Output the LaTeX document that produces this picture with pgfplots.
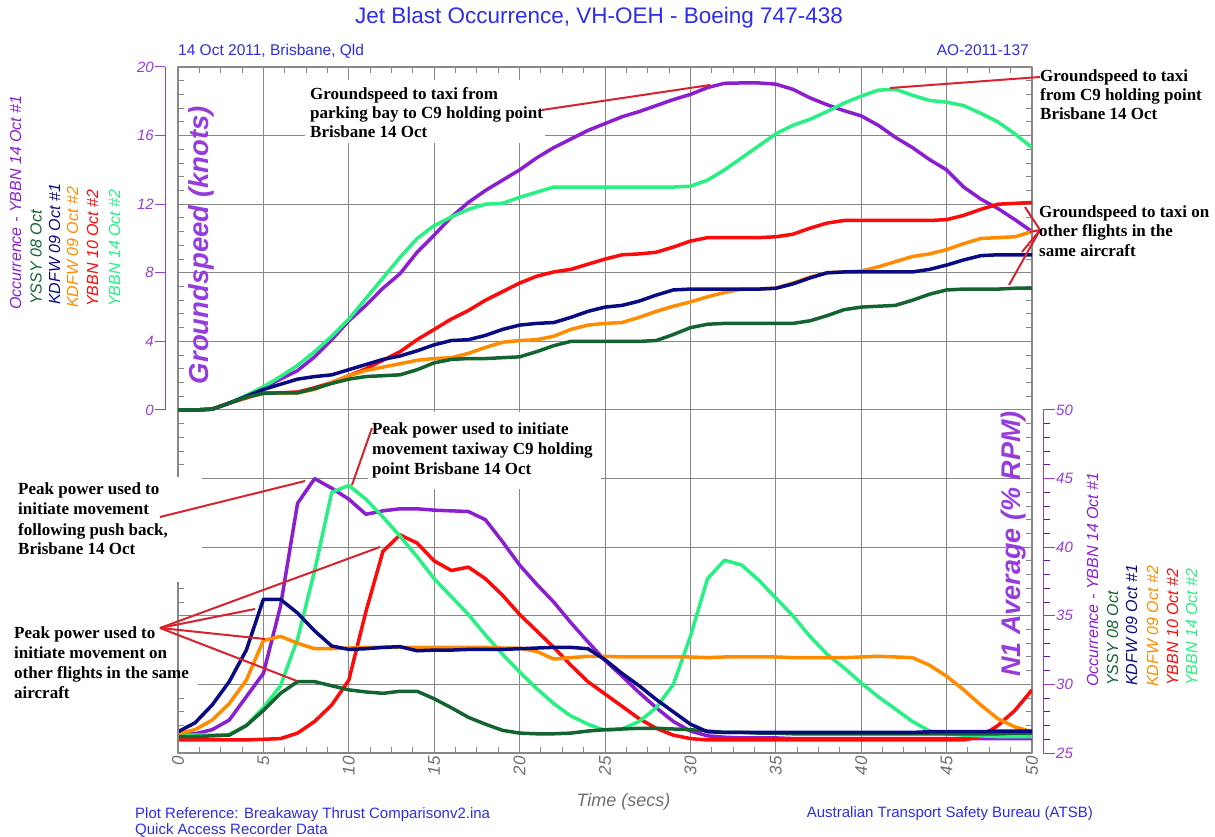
\documentclass[border=0pt]{standalone}
\usepackage{pgfplots}
\usepackage{pgfplotstable}
\pgfplotsset{compat=1.18}
\usepackage{fontspec}
\setmainfont{Liberation Serif}
\newfontfamily\arial{Liberation Sans}

\definecolor{occ}{RGB}{140,30,210}
\definecolor{yssy}{RGB}{20,100,50}
\definecolor{kdfwa}{RGB}{10,10,130}
\definecolor{kdfwb}{RGB}{255,140,0}
\definecolor{ybbnr}{RGB}{255,10,10}
\definecolor{ybbng}{RGB}{40,240,130}
\definecolor{axpurple}{RGB}{150,60,220}
\definecolor{hdrblue}{RGB}{45,45,235}
\definecolor{gridgray}{RGB}{135,135,135}
\definecolor{annred}{RGB}{215,35,45}
\definecolor{ticktext}{RGB}{110,110,110}

\newcommand\annfont{\fontsize{17}{20}\selectfont\bfseries}
\newcommand\legfont{\arial\itshape\fontsize{16}{16}\selectfont}

% groundspeed (knots)
\pgfplotstableread{
t occ yssy kdfwa kdfwb ybbnr ybbng
0 0 0 0 0 0 0
1 0 0 0 0 0 0
2 0.05 0.05 0.05 0.05 0.05 0.05
3 0.4 0.4 0.4 0.4 0.4 0.4
4 0.8 0.75 0.8 0.75 0.7 0.85
5 1.3 0.97 1.2 0.97 1.0 1.35
6 1.8 1.0 1.5 1.0 1.0 1.95
7 2.3 1.0 1.8 1.0 1.05 2.6
8 3.1 1.25 1.95 1.2 1.3 3.4
9 4.1 1.55 2.05 1.6 1.6 4.3
10 5.2 1.8 2.35 2.0 2.0 5.3
11 6.1 1.95 2.65 2.3 2.4 6.5
12 7.1 2.0 2.95 2.5 2.9 7.7
13 7.95 2.05 3.15 2.7 3.4 8.9
14 9.2 2.35 3.45 2.9 4.1 10.0
15 10.2 2.75 3.8 3.0 4.7 10.75
16 11.25 2.95 4.05 3.05 5.3 11.25
17 12.1 3.0 4.1 3.3 5.8 11.7
18 12.8 3.0 4.35 3.65 6.4 12.0
19 13.4 3.05 4.7 3.95 6.9 12.05
20 14.0 3.1 4.95 4.05 7.4 12.4
21 14.7 3.4 5.05 4.1 7.8 12.7
22 15.3 3.75 5.1 4.3 8.05 13.0
23 15.8 4.0 5.4 4.7 8.2 13.0
24 16.3 4.0 5.75 4.95 8.5 13.0
25 16.7 4.0 6.0 5.05 8.8 13.0
26 17.1 4.0 6.1 5.1 9.05 13.0
27 17.4 4.0 6.35 5.4 9.1 13.0
28 17.75 4.05 6.7 5.75 9.2 13.0
29 18.1 4.4 7.0 6.05 9.5 13.0
30 18.4 4.8 7.05 6.3 9.85 13.05
31 18.8 5.0 7.05 6.6 10.05 13.4
32 19.05 5.05 7.05 6.85 10.05 14.0
33 19.07 5.05 7.05 7.05 10.05 14.7
34 19.07 5.05 7.05 7.05 10.05 15.4
35 19.0 5.05 7.1 7.1 10.1 16.1
36 18.7 5.05 7.35 7.4 10.25 16.6
37 18.2 5.2 7.7 7.75 10.6 16.95
38 17.8 5.5 8.0 8.0 10.9 17.4
39 17.45 5.85 8.05 8.05 11.05 17.9
40 17.15 6.0 8.05 8.1 11.05 18.3
41 16.6 6.05 8.05 8.35 11.05 18.65
42 15.9 6.1 8.05 8.65 11.05 18.7
43 15.3 6.4 8.05 8.95 11.05 18.35
44 14.6 6.75 8.2 9.1 11.05 18.05
45 14.0 7.0 8.45 9.35 11.1 17.95
46 13.0 7.05 8.75 9.7 11.35 17.75
47 12.3 7.05 9.0 10.0 11.7 17.3
48 11.75 7.05 9.05 10.05 12.0 16.8
49 11.1 7.1 9.05 10.1 12.05 16.1
50 10.4 7.1 9.05 10.4 12.1 15.3
}\gs

% N1 average (% RPM)
\pgfplotstableread{
t occ yssy kdfwa kdfwb ybbnr ybbng
0 26.4 26.2 26.55 26.4 25.95 26.3
1 26.4 26.2 27.2 26.7 25.95 26.3
2 26.7 26.25 28.5 27.4 25.95 26.3
3 27.4 26.3 30.2 28.6 25.95 26.35
4 29.1 27.0 32.5 30.3 25.95 27.0
5 30.8 28.1 36.2 33.2 26.0 28.3
6 35.7 29.35 36.2 33.5 26.05 29.9
7 43.2 30.2 35.2 33.0 26.45 33.3
8 45.0 30.2 33.9 32.6 27.3 38.3
9 44.3 29.9 32.8 32.6 28.5 44.0
10 43.5 29.6 32.55 32.65 30.3 44.5
11 42.4 29.45 32.6 32.7 35.3 43.5
12 42.65 29.35 32.7 32.7 39.7 42.2
13 42.8 29.5 32.75 32.7 40.9 40.8
14 42.8 29.5 32.45 32.7 40.3 39.3
15 42.7 28.95 32.5 32.7 39.0 37.7
16 42.65 28.3 32.5 32.7 38.3 36.4
17 42.6 27.6 32.55 32.7 38.55 35.1
18 42.0 27.1 32.55 32.7 37.7 33.6
19 40.4 26.65 32.55 32.65 36.5 32.2
20 38.7 26.45 32.6 32.65 35.1 30.9
21 37.3 26.4 32.65 32.4 33.9 29.7
22 36.0 26.4 32.7 31.85 32.7 28.6
23 34.5 26.45 32.7 31.95 31.4 27.7
24 33.1 26.6 32.6 32.05 30.2 27.1
25 31.75 26.7 31.8 32.05 29.3 26.65
26 30.6 26.75 30.8 32.0 28.4 26.75
27 29.4 26.8 29.9 32.0 27.5 27.3
28 28.3 26.8 28.9 32.0 26.8 28.3
29 27.3 26.75 28.0 32.0 26.3 30.0
30 26.6 26.7 27.1 32.0 26.05 33.5
31 26.25 26.6 26.55 31.95 25.95 37.7
32 26.15 26.5 26.5 32.0 25.95 39.05
33 26.1 26.5 26.5 32.0 25.95 38.7
34 26.1 26.45 26.5 32.0 25.95 37.6
35 26.1 26.45 26.5 32.0 25.95 36.3
36 26.05 26.4 26.5 31.95 25.95 35.0
37 26.05 26.4 26.5 31.95 25.95 33.5
38 26.05 26.4 26.5 31.95 25.95 32.2
39 26.05 26.4 26.5 31.95 25.95 31.2
40 26.05 26.4 26.5 32.0 25.95 30.1
41 26.05 26.4 26.5 32.05 25.95 29.1
42 26.05 26.4 26.5 32.0 25.95 28.2
43 26.05 26.4 26.5 31.95 25.95 27.3
44 26.05 26.4 26.55 31.4 25.95 26.6
45 26.05 26.4 26.55 30.6 25.95 26.4
46 26.05 26.4 26.55 29.6 25.95 26.3
47 26.05 26.4 26.55 28.5 26.2 26.25
48 26.05 26.4 26.6 27.5 27.0 26.2
49 26.05 26.45 26.6 26.9 28.1 26.2
50 26.05 26.45 26.6 26.55 29.6 26.2
}\none

\begin{document}
\begin{tikzpicture}[x=1pt,y=1pt, txt/.style={inner sep=0pt}]
\useasboundingbox (0,0) rectangle (1215,836);

% frame, grid and groundspeed curves
\begin{axis}[
  at={(178pt,83pt)}, anchor=south west,
  scale only axis, width=854pt, height=686pt,
  xmin=0, xmax=50, ymin=-20, ymax=20,
  xtick={0,5,...,50}, ytick={-20,-16,...,20}, yticklabels={},
  minor x tick num=3, minor y tick num=4,
  grid=major, major grid style={gridgray, line width=1pt},
  axis line style={gridgray, line width=1.3pt},
  tick align=inside, major tick length=0pt, minor tick length=6pt,
  minor tick style={gridgray, line width=1pt},
  /pgf/number format/assume math mode=true,
  xticklabel style={font=\arial\itshape\fontsize{17}{17}\selectfont, text=ticktext, rotate=90, anchor=east},
  xlabel={Time (secs)},
  xlabel style={font=\arial\itshape\fontsize{18}{18}\selectfont, text=ticktext,
    at={(axis description cs:0.5217,0)}, anchor=base, yshift=-53pt},
  line join=round,
]
\addplot[occ, line width=3.5pt] table[x=t, y=occ] {\gs};
\addplot[ybbng, line width=3.5pt] table[x=t, y=ybbng] {\gs};
\addplot[ybbnr, line width=3.5pt] table[x=t, y=ybbnr] {\gs};
\addplot[kdfwb, line width=3.5pt] table[x=t, y=kdfwb] {\gs};
\addplot[kdfwa, line width=3.5pt] table[x=t, y=kdfwa] {\gs};
\addplot[yssy, line width=3.5pt] table[x=t, y=yssy] {\gs};
\end{axis}

% N1 curves, same frame
\begin{axis}[
  at={(178pt,83pt)}, anchor=south west,
  scale only axis, width=854pt, height=686pt,
  xmin=0, xmax=50, ymin=25, ymax=75, hide axis, line join=round,
]
\addplot[occ, line width=3.5pt] table[x=t, y=occ] {\none};
\addplot[ybbnr, line width=3.5pt] table[x=t, y=ybbnr] {\none};
\addplot[ybbng, line width=3.5pt] table[x=t, y=ybbng] {\none};
\addplot[kdfwb, line width=3.5pt] table[x=t, y=kdfwb] {\none};
\addplot[yssy, line width=3.5pt] table[x=t, y=yssy] {\none};
\addplot[kdfwa, line width=3.5pt] table[x=t, y=kdfwa] {\none};
\end{axis}

% left purple scale (groundspeed)
\begin{axis}[
  at={(165pt,426pt)}, anchor=south west,
  scale only axis, width=854pt, height=343pt,
  xmin=0, xmax=1, ymin=0, ymax=20,
  axis y line=left, axis x line=none, y axis line style={-},
  ytick={0,4,...,20}, xtick=\empty,
  tick align=outside, major tick length=10pt,
  axis line style={axpurple, line width=1pt},
  major tick style={axpurple, line width=1pt},
  /pgf/number format/assume math mode=true,
  yticklabel style={font=\arial\itshape\fontsize{15}{15}\selectfont, text=axpurple, inner sep=1pt},
]
\end{axis}

% right purple scale (N1)
\begin{axis}[
  at={(189pt,83pt)}, anchor=south west,
  scale only axis, width=854pt, height=343pt,
  xmin=0, xmax=1, ymin=25, ymax=50,
  axis y line=right, axis x line=none, y axis line style={-},
  ytick={25,30,...,50}, xtick=\empty, minor y tick num=4,
  tick align=outside, major tick length=12pt, minor tick length=7pt,
  axis line style={axpurple, line width=1pt},
  major tick style={axpurple, line width=1pt},
  minor tick style={axpurple!55!black, line width=1pt},
  /pgf/number format/assume math mode=true,
  yticklabel style={font=\arial\itshape\fontsize{15}{15}\selectfont, text=axpurple, inner sep=1pt},
]
\end{axis}

% headings
\node[txt, anchor=base, text=hdrblue, font=\arial\fontsize{22.5}{23}\selectfont] at (599,812) {Jet Blast Occurrence, VH-OEH - Boeing 747-438};
\node[txt, anchor=base west, text=hdrblue, font=\arial\fontsize{15.5}{16}\selectfont] at (178,780) {14 Oct 2011, Brisbane, Qld};
\node[txt, anchor=base east, text=hdrblue, font=\arial\fontsize{15.5}{16}\selectfont] at (1029,780) {AO-2011-137};
\node[txt, anchor=base west, text=hdrblue, font=\arial\fontsize{15}{16}\selectfont] at (135,18) {Plot Reference: Breakaway Thrust Comparisonv2.ina};
\node[txt, anchor=base west, text=hdrblue, font=\arial\fontsize{15}{16}\selectfont] at (135,2) {Quick Access Recorder Data};
\node[txt, anchor=base east, text=hdrblue, font=\arial\fontsize{15}{16}\selectfont] at (1093,19) {Australian Transport Safety Bureau (ATSB)};

% axis titles
\node[txt, anchor=base, rotate=90, text=axpurple, font=\arial\bfseries\itshape\fontsize{27.5}{28}\selectfont] at (208,591) {Groundspeed (knots)};
\node[txt, anchor=base, rotate=90, text=axpurple, font=\arial\bfseries\itshape\fontsize{27}{27}\selectfont] at (1020,292) {N1 Average (\% RPM)};

% series names, left
\node[txt, anchor=base west, rotate=90, text=occ, font=\legfont] at (21,526) {Occurrence - YBBN 14 Oct \#1};
\node[txt, anchor=base west, rotate=90, text=yssy, font=\legfont] at (41.5,531) {YSSY 08 Oct};
\node[txt, anchor=base west, rotate=90, text=kdfwa, font=\legfont] at (60,531) {KDFW 09 Oct \#1};
\node[txt, anchor=base west, rotate=90, text=kdfwb, font=\legfont] at (78,528) {KDFW 09 Oct \#2};
\node[txt, anchor=base west, rotate=90, text=ybbnr, font=\legfont] at (98,529) {YBBN 10 Oct \#2};
\node[txt, anchor=base west, rotate=90, text=ybbng, font=\legfont] at (120,529) {YBBN 14 Oct \#2};
% series names, right
\node[txt, anchor=base west, rotate=90, text=occ, font=\legfont] at (1098,149) {Occurrence - YBBN 14 Oct \#1};
\node[txt, anchor=base west, rotate=90, text=yssy, font=\legfont] at (1118,150) {YSSY 08 Oct};
\node[txt, anchor=base west, rotate=90, text=kdfwa, font=\legfont] at (1137,150) {KDFW 09 Oct \#1};
\node[txt, anchor=base west, rotate=90, text=kdfwb, font=\legfont] at (1158,149) {KDFW 09 Oct \#2};
\node[txt, anchor=base west, rotate=90, text=ybbnr, font=\legfont] at (1178,150) {YBBN 10 Oct \#2};
\node[txt, anchor=base west, rotate=90, text=ybbng, font=\legfont] at (1197,150) {YBBN 14 Oct \#2};

% white boxes behind annotations
\fill[white] (305,693) rectangle (545,756);
\fill[white] (368,347) rectangle (601,424);
\fill[white] (10,254) rectangle (202,359);
\fill[white] (10,140) rectangle (198,214);
\draw[gridgray, line width=1.3pt] (178,83) -- (178,254);

% annotation pointers
\begin{scope}[annred, line width=2pt]
\draw (542,726) -- (710,751);
\draw (890,748) -- (1040,759);
\draw (1025,629) -- (1040,606) -- (1030,604);
\draw (1040,606) -- (1022,584);
\draw (1040,606) -- (1009,551);
\draw (372,408) -- (352,351);
\draw (160,319) -- (305,355);
\draw (160,208) -- (380,289);
\draw (160,208) -- (255,227);
\draw (160,208) -- (265,197);
\draw (160,208) -- (297,155);
\end{scope}

% annotations
\node[txt, anchor=base west, font=\annfont] at (310,736) {Groundspeed to taxi from};
\node[txt, anchor=base west, font=\annfont] at (310,717) {parking bay to C9 holding point};
\node[txt, anchor=base west, font=\annfont] at (310,698) {Brisbane 14 Oct};

\node[txt, anchor=base west, font=\annfont] at (1040,754) {Groundspeed to taxi};
\node[txt, anchor=base west, font=\annfont] at (1040,735) {from C9 holding point};
\node[txt, anchor=base west, font=\annfont] at (1040,716) {Brisbane 14 Oct};

\node[txt, anchor=base west, font=\annfont] at (1039,618) {Groundspeed to taxi on};
\node[txt, anchor=base west, font=\annfont] at (1039,599) {other flights in the};
\node[txt, anchor=base west, font=\annfont] at (1039,579) {same aircraft};

\node[txt, anchor=base west, font=\annfont] at (372,401) {Peak power used to initiate};
\node[txt, anchor=base west, font=\annfont] at (372,381) {movement taxiway C9 holding};
\node[txt, anchor=base west, font=\annfont] at (372,361) {point Brisbane 14 Oct};

\node[txt, anchor=base west, font=\annfont] at (18,341) {Peak power used to};
\node[txt, anchor=base west, font=\annfont] at (18,321) {initiate movement};
\node[txt, anchor=base west, font=\annfont] at (18,301) {following push back,};
\node[txt, anchor=base west, font=\annfont] at (18,281) {Brisbane 14 Oct};

\node[txt, anchor=base west, font=\annfont] at (14,198) {Peak power used to};
\node[txt, anchor=base west, font=\annfont] at (14,178) {initiate movement on};
\node[txt, anchor=base west, font=\annfont] at (14,158) {other flights in the same};
\node[txt, anchor=base west, font=\annfont] at (14,138) {aircraft};
\end{tikzpicture}
\end{document}
